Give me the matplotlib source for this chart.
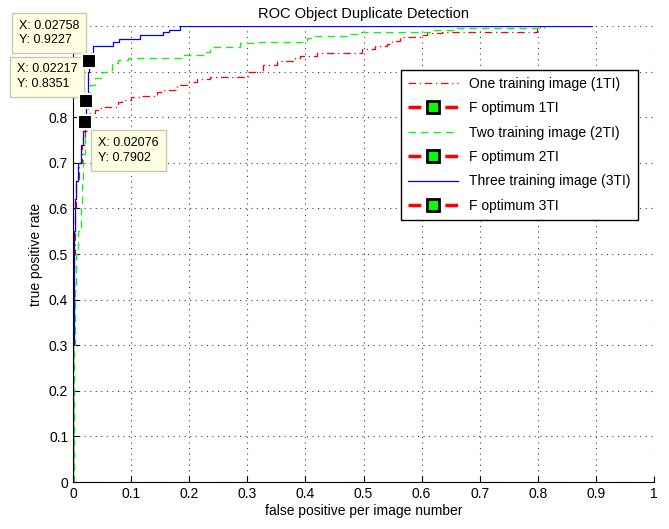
import matplotlib
matplotlib.use("Agg")
import matplotlib.pyplot as plt

plt.rcParams['font.family'] = ['Liberation Sans', 'DejaVu Sans']

# ---- data ----
x_1ti = [0, 0.0, 0.001, 0.003, 0.006, 0.010, 0.015, 0.020, 0.024, 0.030, 0.038, 0.046, 0.052,
         0.077, 0.084, 0.100, 0.119, 0.144, 0.155, 0.179, 0.196, 0.213, 0.236, 0.301, 0.327,
         0.351, 0.382, 0.391, 0.420, 0.497, 0.520, 0.540, 0.549, 0.563, 0.600, 0.609, 0.635,
         0.799, 0.810]
y_1ti = [0, 0.40, 0.50, 0.60, 0.66, 0.70, 0.74, 0.77, 0.79, 0.81, 0.816, 0.820, 0.822,
         0.833, 0.838, 0.844, 0.846, 0.855, 0.860, 0.871, 0.877, 0.884, 0.888, 0.899, 0.914,
         0.923, 0.930, 0.934, 0.941, 0.950, 0.956, 0.960, 0.967, 0.976, 0.980, 0.985, 0.987,
         0.998, 1.0]

x_2ti = [0, 0.001, 0.003, 0.005, 0.008, 0.013, 0.016, 0.018, 0.020, 0.025, 0.030, 0.038,
         0.050, 0.058, 0.067, 0.077, 0.095, 0.190, 0.224, 0.236, 0.287, 0.317, 0.403, 0.410,
         0.477, 0.494, 0.620, 0.660, 0.810]
y_2ti = [0, 0.30, 0.42, 0.50, 0.55, 0.60, 0.66, 0.72, 0.78, 0.84, 0.87, 0.886,
         0.899, 0.904, 0.919, 0.925, 0.930, 0.936, 0.943, 0.954, 0.962, 0.965, 0.974, 0.978,
         0.982, 0.987, 0.991, 0.996, 1.0]

x_3ti = [0, 0.0, 0.001, 0.002, 0.004, 0.006, 0.009, 0.013, 0.017, 0.02076, 0.02217, 0.026,
         0.02758, 0.030, 0.034, 0.069, 0.080, 0.115, 0.155, 0.165, 0.184, 0.893]
y_3ti = [0, 0.30, 0.45, 0.55, 0.62, 0.66, 0.70, 0.74, 0.77, 0.7902, 0.8351, 0.90,
         0.9227, 0.94, 0.956, 0.965, 0.971, 0.980, 0.987, 0.991, 1.0, 1.0]

fopt_x = [0.02076, 0.02217, 0.02758]
fopt_y = [0.7902, 0.8351, 0.9227]
tip_labels = ['X: 0.02076\nY: 0.7902', 'X: 0.02217\nY: 0.8351', 'X: 0.02758\nY: 0.9227']
tip_offsets = [(13, -42), (-69, 11), (-70, 15)]

ticks = [0, 0.1, 0.2, 0.3, 0.4, 0.5, 0.6, 0.7, 0.8, 0.9, 1]
tick_labels = ['0', '0.1', '0.2', '0.3', '0.4', '0.5', '0.6', '0.7', '0.8', '0.9', '1']

# ---- figure ----
fig = plt.figure(figsize=(6.69, 5.29), dpi=100)
ax = fig.add_axes([73/669, 1-482/529, 581/669, 456/529])

ax.plot(x_1ti, y_1ti, color='red', ls=(0, (6, 3, 1, 3)), lw=0.9, drawstyle='steps-post',
        label='One training image (1TI)')
ax.plot([fopt_x[0]], [fopt_y[0]], color='red', ls='--', lw=2.5, marker='s', ms=8,
        mfc='#00ff00', mec='black', mew=2, label='F optimum 1TI')
ax.plot(x_2ti, y_2ti, color='#00ff00', ls=(0, (6, 4)), lw=0.9, drawstyle='steps-post',
        label='Two training image (2TI)')
ax.plot([fopt_x[1]], [fopt_y[1]], color='red', ls='--', lw=2.5, marker='s', ms=8,
        mfc='#00ff00', mec='black', mew=2, label='F optimum 2TI')
ax.plot(x_3ti, y_3ti, color='blue', ls='-', lw=0.9, drawstyle='steps-post',
        label='Three training image (3TI)')
ax.plot([fopt_x[2]], [fopt_y[2]], color='red', ls='--', lw=2.5, marker='s', ms=8,
        mfc='#00ff00', mec='black', mew=2, label='F optimum 3TI')

# data tips
for xv, yv, lab, off in zip(fopt_x, fopt_y, tip_labels, tip_offsets):
    ax.plot([xv], [yv], marker='s', ms=10, mfc='black', mec='#fffff0', mew=1.5,
            ls='none', zorder=8)
    ax.annotate(lab, xy=(xv, yv), xytext=off, textcoords='offset pixels',
                ha='left', va='bottom', multialignment='left',
                fontsize=9, linespacing=1.3,
                bbox=dict(boxstyle='square,pad=0.55', fc='#ffffe1', ec='#c8c8b0', lw=1),
                zorder=7, annotation_clip=False)

ax.set_xlim(0, 1)
ax.set_ylim(0, 1)
ax.set_xticks(ticks)
ax.set_xticklabels(tick_labels)
ax.set_yticks(ticks)
ax.set_yticklabels(tick_labels)
ax.tick_params(direction='in', labelsize=10, length=4, width=0.8)
ax.spines['top'].set_visible(False)
ax.spines['right'].set_visible(False)
ax.grid(True, ls=(0, (1, 4)), color='0.25', lw=0.8)
ax.set_axisbelow(True)

ax.set_title('ROC Object Duplicate Detection', fontsize=10.5, pad=6)
ax.set_xlabel('false positive per image number', fontsize=10, labelpad=2)
ax.set_ylabel('true positive rate', fontsize=10, labelpad=4)

leg = ax.legend(loc='upper right', bbox_to_anchor=(0.972, 0.904), borderaxespad=0,
                fancybox=False, edgecolor='black', framealpha=1, fontsize=10,
                handlelength=3.6, labelspacing=0.75, borderpad=0.5)
leg.get_frame().set_linewidth(1.0)

fig.savefig('out.png', dpi=100)
